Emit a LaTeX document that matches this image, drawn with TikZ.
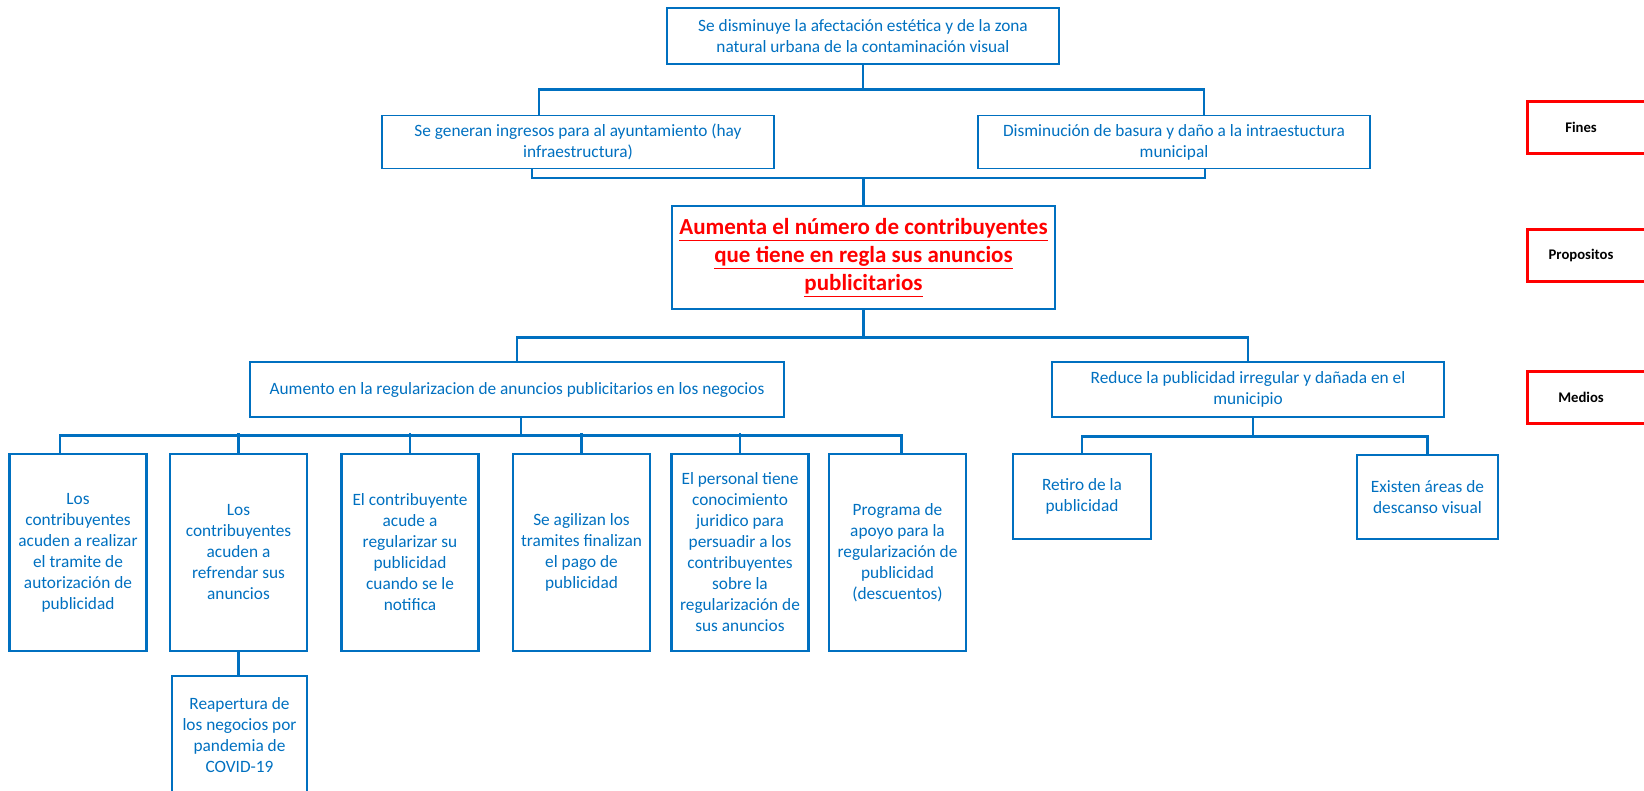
\documentclass[tikz,border=0pt]{standalone}
\usepackage{fontspec}
\setmainfont{Carlito}
\definecolor{azul}{HTML}{0070C0}
\definecolor{rojo}{HTML}{FF0000}

\begin{document}
\begin{tikzpicture}[x=1pt, y=-1pt,
    caja/.style={draw=azul, text=azul, align=center, inner sep=0pt, line width=2.5pt,
      font=\fontsize{17.3}{21}\selectfont},
    fin/.style={caja, line width=1.2pt, minimum width=392pt},
    hijo/.style={caja, minimum width=137pt, minimum height=197pt},
    etiqueta/.style={minimum width=106pt, minimum height=51pt,
      font=\fontsize{14.7}{18}\selectfont\bfseries},
    marco/.style={draw=rojo, line width=3pt},
    linea/.style={draw=azul, line width=2.5pt}]
  \useasboundingbox (0,0) rectangle (1644,790);

  \node[fin, minimum height=56pt] (t0) at (863,36)
    {Se disminuye la afectación estética y de la zona\\natural urbana de la contaminación visual};
  \node[fin, minimum height=53pt] (f1) at (578,142)
    {Se generan ingresos para al ayuntamiento (hay\\infraestructura)};
  \node[fin, minimum height=53pt] (f2) at (1174,142)
    {Disminución de basura y daño a la intraestuctura\\municipal};
  \node[caja, minimum width=383pt, minimum height=103pt, text=rojo,
    font=\fontsize{23}{28}\selectfont\bfseries] (p0) at (863.5,257.5)
    {\underline{Aumenta el número de contribuyentes}\\\underline{que tiene en regla sus anuncios}\\\underline{publicitarios}};
  \node[caja, minimum width=534pt, minimum height=55pt] (m1) at (517,389.5)
    {Aumento en la regularizacion de anuncios publicitarios en los negocios};
  \node[caja, minimum width=392pt, minimum height=55pt] (m2) at (1248,389.5)
    {Reduce la publicidad irregular y dañada en el\\municipio};

  \node[hijo] (c1) at (78,552.5)
    {Los\\contribuyentes\\acuden a realizar\\el tramite de\\autorización de\\publicidad};
  \node[hijo] (c2) at (238.5,552.5)
    {Los\\contribuyentes\\acuden a\\refrendar sus\\anuncios};
  \node[hijo] (c3) at (410,552.5)
    {El contribuyente\\acude a\\regularizar su\\publicidad\\cuando se le\\notifica};
  \node[hijo] (c4) at (581.5,552.5)
    {Se agilizan los\\tramites finalizan\\el pago de\\publicidad};
  \node[hijo] (c5) at (740,552.5)
    {El personal tiene\\conocimiento\\juridico para\\persuadir a los\\contribuyentes\\sobre la\\regularización de\\sus anuncios};
  \node[hijo] (c6) at (897.5,552.5)
    {Programa de\\apoyo para la\\regularización de\\publicidad\\(descuentos)};
  \node[hijo, minimum width=135pt, minimum height=118pt] (c7) at (239.5,735)
    {Reapertura de\\los negocios por\\pandemia de\\COVID-19};
  \node[caja, minimum width=138pt, minimum height=85pt] (d1) at (1082,496.5)
    {Retiro de la\\publicidad};
  \node[caja, minimum width=141pt, minimum height=84pt] (d2) at (1427.5,497)
    {Existen áreas de\\descanso visual};

  \node[etiqueta] (e1) at (1581,127.5) {Fines};
  \node[etiqueta] (e2) at (1581,255.5) {Propositos};
  \node[etiqueta] (e3) at (1581,397.5) {Medios};
  \foreach \e in {e1,e2,e3}
    \draw[marco] (\e.north west) rectangle ([xshift=20pt]\e.south east);

  \draw[linea] (t0.south) -- ++(0,25) coordinate (b0);
  \draw[linea] ([xshift=-39pt]f1.north) |- (b0) -| ([xshift=30pt]f2.north);
  \draw[linea] (p0.north) -- ++(0,-27) coordinate (b1);
  \draw[linea] ([xshift=-46pt]f1.south) |- (b1) -| ([xshift=31pt]f2.south);
  \draw[linea] (p0.south) -- ++(0,27) coordinate (b2);
  \draw[linea] (m1.north) |- (b2) -| (m2.north);
  \draw[linea] ([xshift=4pt]m1.south) -- ++(0,17) coordinate (b3);
  \draw[linea] ([xshift=-18pt]c1.north) |- (b3) -| ([xshift=4pt]c6.north);
  \foreach \c in {c2,c3,c4,c5}
    \draw[linea] (\c.north) -- ++(0,-20);
  \draw[linea] (c2.south) -- (c2.south |- c7.north);
  \draw[linea] ([xshift=5pt]m2.south) -- ++(0,18) coordinate (b4);
  \draw[linea] (d1.north) |- (b4) -| (d2.north);
\end{tikzpicture}
\end{document}
